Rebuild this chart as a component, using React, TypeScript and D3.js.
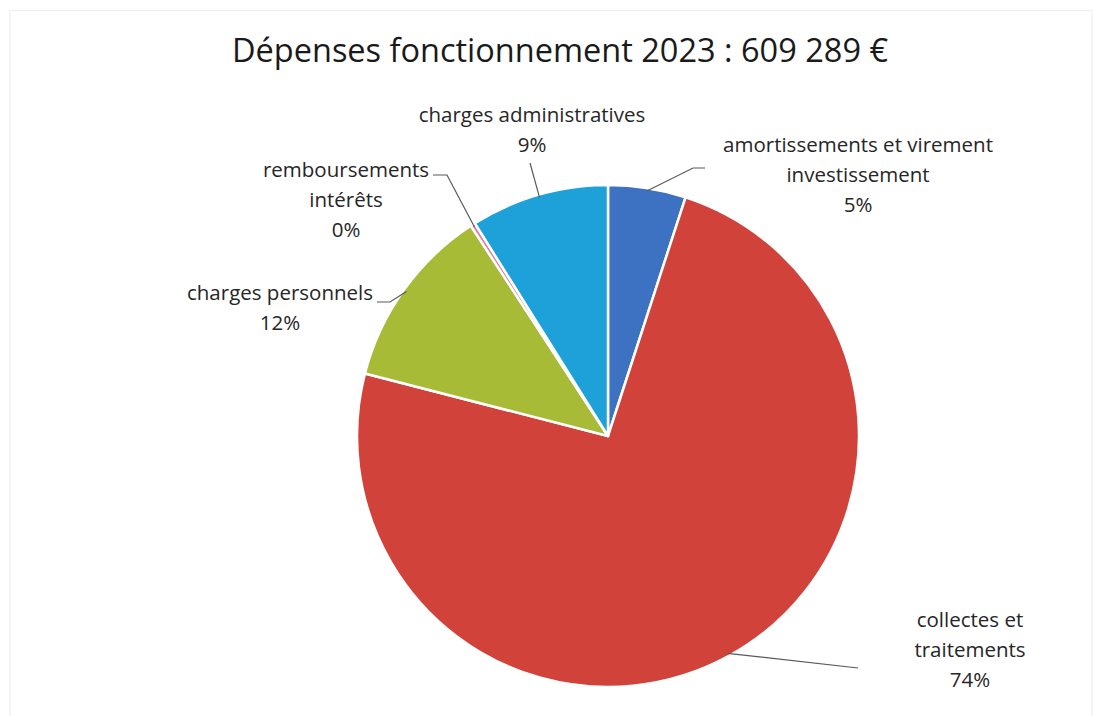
import React from 'react';
import * as d3 from 'd3';

// slices, clockwise from 12 o'clock
const categories = [
  'amortissements et virement investissement',
  'collectes et traitements',
  'charges personnels',
  'remboursements intérêts',
  'charges administratives',
];
const shares = [5.0, 74.0, 11.8, 0.3, 8.9];
const colors = ['#3d72c2', '#d1433a', '#a8bb37', '#e07aa8', '#1ea1d8'];
const labelLines = [
  ['amortissements et virement', 'investissement', '5%'],
  ['collectes et', 'traitements', '74%'],
  ['charges personnels', '12%'],
  ['remboursements', 'intérêts', '0%'],
  ['charges administratives', '9%'],
];
const title = 'Dépenses fonctionnement 2023 : 609 289 €';

const W = 1094;
const H = 716;
const cx = 608;
const cy = 436;
const r = 251;
const font = "'Open Sans', Lato, sans-serif";

// label layout: centre x, first baseline y, and the leader's label-side points
const labelLayout = [
  { x: 858, y: 152, leader: [[705, 168], [693, 168]] },
  { x: 970, y: 627, leader: [[858, 668]] },
  { x: 280, y: 300, leader: [[377, 302], [390, 302]] },
  { x: 346, y: 177, leader: [[433, 175], [447, 175]] },
  { x: 532, y: 122, leader: [[530, 163]] },
];

const App: React.FC = () => {
  const pie = d3.pie<number>().sort(null).value(d => d);
  const arcs = pie(shares);
  const arc = d3.arc<d3.PieArcDatum<number>>().innerRadius(0).outerRadius(r);
  const line = d3.line();

  return (
    <div style={{ position: 'absolute', left: 0, top: 0 }}>
      <svg width={W} height={H} style={{ display: 'block', background: '#fff' }}>
        <rect x={10} y={10.5} width={W - 12} height={H - 8} fill="none" stroke="#ececec" strokeWidth={1} />
        <text x={560} y={62} textAnchor="middle" fontFamily={font} fontSize={32.5} fill="#1a1a1a">
          {title}
        </text>
        <g transform={`translate(${cx},${cy})`}>
          {arcs.map((a, i) => (
            <path key={categories[i]} d={arc(a) || ''} fill={colors[i]} stroke="#fff" strokeWidth={2.5} strokeLinejoin="round" />
          ))}
        </g>
        {arcs.map((a, i) => {
          const mid = (a.startAngle + a.endAngle) / 2;
          const px = cx + Math.sin(mid) * (r - 3);
          const py = cy - Math.cos(mid) * (r - 3);
          const pts = [...labelLayout[i].leader, [px, py]] as [number, number][];
          return <path key={'l' + i} d={line(pts) || ''} fill="none" stroke="#595959" strokeWidth={1.2} />;
        })}
        {labelLines.map((lines, i) => (
          <text key={'t' + i} textAnchor="middle" fontFamily={font} fontSize={20.5} fill="#262626">
            {lines.map((s, j) => (
              <tspan key={j} x={labelLayout[i].x} y={labelLayout[i].y + j * 30}>{s}</tspan>
            ))}
          </text>
        ))}
      </svg>
    </div>
  );
};

export default App;
